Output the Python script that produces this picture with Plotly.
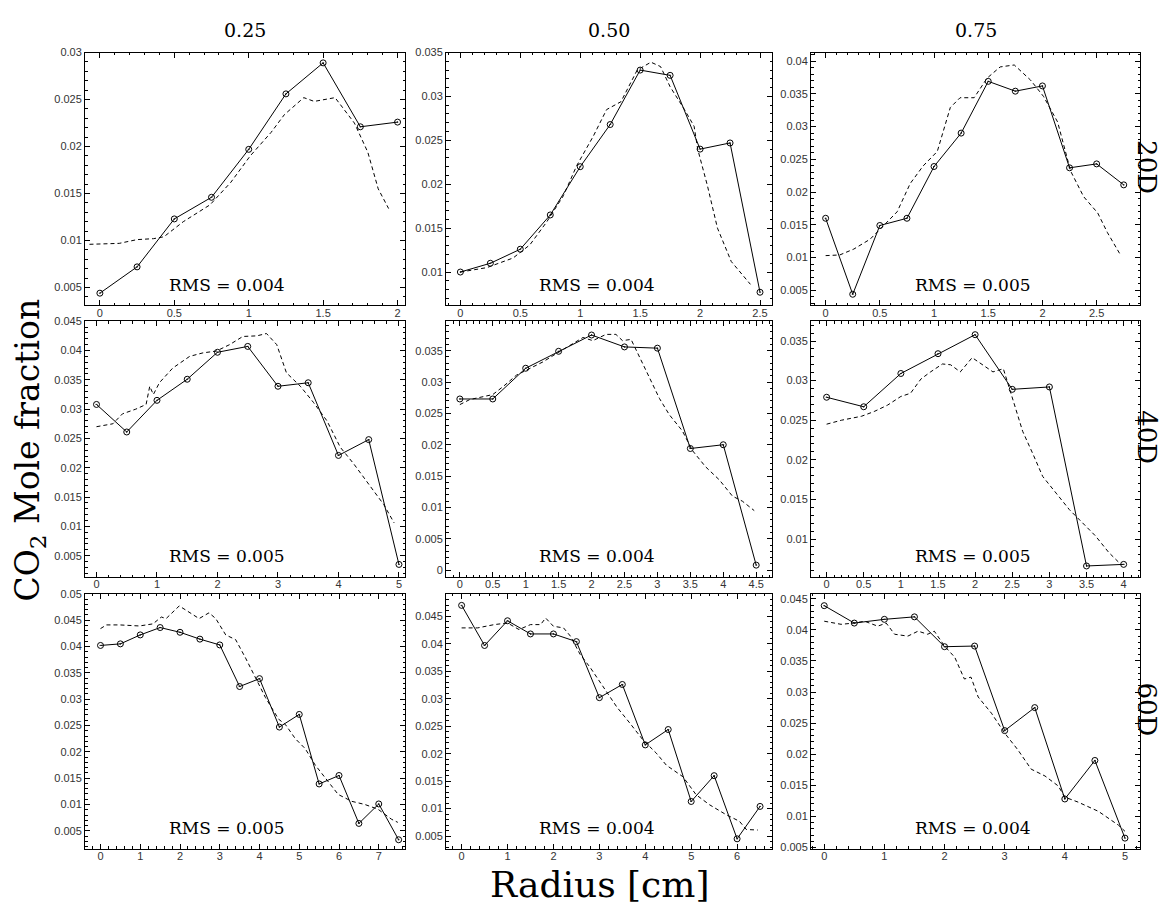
import plotly.graph_objects as go

# ---------------- data ----------------
col_titles = ["0.25", "0.50", "0.75"]
row_titles = ["20D", "40D", "60D"]
rms_labels = [["RMS = 0.004", "RMS = 0.004", "RMS = 0.005"],
              ["RMS = 0.005", "RMS = 0.004", "RMS = 0.005"],
              ["RMS = 0.005", "RMS = 0.004", "RMS = 0.004"]]

# 20D
r20_025_x = [0, 0.25, 0.5, 0.75, 1, 1.25, 1.5, 1.75, 2]
r20_025_y = [0.0044, 0.0072, 0.0123, 0.0146, 0.0197, 0.0256, 0.0289, 0.0221, 0.0226]
r20_025_sim_x = [-0.07, 0.13, 0.25, 0.36, 0.43, 0.56, 0.74, 0.88, 1.01, 1.15, 1.24, 1.37, 1.44, 1.58, 1.71, 1.80, 1.87, 1.94]
r20_025_sim_y = [0.0096, 0.0097, 0.0101, 0.0102, 0.0104, 0.0120, 0.0138, 0.0162, 0.0190, 0.0215, 0.0234, 0.0252, 0.0248, 0.0252, 0.0225, 0.0194, 0.0155, 0.0134]

r20_050_x = [0, 0.25, 0.5, 0.75, 1, 1.25, 1.5, 1.75, 2, 2.25, 2.5]
r20_050_y = [0.0100, 0.0110, 0.0126, 0.0165, 0.0220, 0.0268, 0.0330, 0.0324, 0.0240, 0.0247, 0.0077]
r20_050_sim_x = [0, 0.22, 0.44, 0.58, 0.72, 0.86, 0.97, 1.11, 1.22, 1.34, 1.475, 1.59, 1.67, 1.75, 1.87, 1.95, 1.98, 2.06, 2.145, 2.26, 2.42]
r20_050_sim_y = [0.0100, 0.0105, 0.0116, 0.0131, 0.0157, 0.0187, 0.0221, 0.0255, 0.0285, 0.0294, 0.0330, 0.0339, 0.0334, 0.0311, 0.0285, 0.0266, 0.0240, 0.0199, 0.0150, 0.0112, 0.0086]

r20_075_x = [0, 0.25, 0.5, 0.75, 1, 1.25, 1.5, 1.75, 2, 2.25, 2.5, 2.75]
r20_075_y = [0.0160, 0.0044, 0.0149, 0.0160, 0.0239, 0.0290, 0.0369, 0.0354, 0.0362, 0.0237, 0.0243, 0.0211]
r20_075_sim_x = [0, 0.13, 0.26, 0.41, 0.53, 0.66, 0.78, 0.90, 1.03, 1.15, 1.24, 1.37, 1.49, 1.61, 1.74, 1.89, 2.01, 2.14, 2.26, 2.38, 2.51, 2.60, 2.72]
r20_075_sim_y = [0.0103, 0.0104, 0.0113, 0.0128, 0.0148, 0.0170, 0.0213, 0.0240, 0.0262, 0.0329, 0.0344, 0.0344, 0.0374, 0.0391, 0.0394, 0.0371, 0.0346, 0.0307, 0.0232, 0.0193, 0.0168, 0.0138, 0.0104]

# 40D
r40_025_x = [0, 0.5, 1, 1.5, 2, 2.5, 3, 3.5, 4, 4.5, 5]
r40_025_y = [0.0308, 0.0261, 0.0315, 0.0351, 0.0397, 0.0407, 0.0339, 0.0345, 0.0221, 0.0248, 0.0035]
r40_025_sim_x = [0, 0.27, 0.43, 0.65, 0.82, 0.88, 0.94, 1.04, 1.26, 1.54, 1.76, 1.98, 2.20, 2.42, 2.65, 2.81, 2.98, 3.14, 3.37, 3.59, 3.81, 4.03, 4.25, 4.53, 4.75, 4.92]
r40_025_sim_y = [0.0270, 0.0275, 0.0292, 0.0300, 0.0308, 0.0339, 0.0325, 0.0345, 0.0370, 0.0390, 0.0396, 0.0399, 0.0410, 0.0424, 0.0425, 0.0429, 0.0410, 0.0362, 0.0339, 0.0311, 0.0280, 0.0235, 0.0207, 0.0168, 0.0137, 0.0106]

r40_050_x = [0, 0.5, 1, 1.5, 2, 2.5, 3, 3.5, 4, 4.5]
r40_050_y = [0.0273, 0.0273, 0.0322, 0.0349, 0.0375, 0.0356, 0.0354, 0.0194, 0.0200, 0.0008]
r40_050_sim_x = [0, 0.15, 0.5, 0.66, 0.86, 1.06, 1.26, 1.46, 1.66, 1.87, 2.02, 2.22, 2.37, 2.47, 2.6, 2.72, 2.88, 3.03, 3.18, 3.38, 3.53, 3.73, 3.94, 4.14, 4.29, 4.47]
r40_050_sim_y = [0.0264, 0.0272, 0.0280, 0.0293, 0.0311, 0.0321, 0.0332, 0.0345, 0.0358, 0.0371, 0.0366, 0.0376, 0.0376, 0.0366, 0.0368, 0.0342, 0.0306, 0.0274, 0.0248, 0.0222, 0.0191, 0.0165, 0.0144, 0.0118, 0.0110, 0.0095]

r40_075_x = [0, 0.5, 1, 1.5, 2, 2.5, 3, 3.5, 4]
r40_075_y = [0.0279, 0.0267, 0.0309, 0.0334, 0.0358, 0.0289, 0.0292, 0.0066, 0.0068]
r40_075_sim_x = [0, 0.2, 0.47, 0.64, 0.82, 1.0, 1.13, 1.27, 1.4, 1.56, 1.67, 1.8, 1.96, 2.11, 2.24, 2.38, 2.51, 2.64, 2.78, 2.91, 3.09, 3.27, 3.44, 3.62, 3.8, 3.93]
r40_075_sim_y = [0.0245, 0.0250, 0.0255, 0.0261, 0.0269, 0.0280, 0.0284, 0.0302, 0.0311, 0.0321, 0.0320, 0.0311, 0.0329, 0.0319, 0.0311, 0.0315, 0.0274, 0.0236, 0.0207, 0.0179, 0.0158, 0.0137, 0.0121, 0.0104, 0.0083, 0.0071]

# 60D
r60_025_x = [0, 0.5, 1, 1.5, 2, 2.5, 3, 3.5, 4, 4.5, 5, 5.5, 6, 6.5, 7, 7.5]
r60_025_y = [0.0402, 0.0405, 0.0422, 0.0436, 0.0427, 0.0414, 0.0403, 0.0324, 0.0339, 0.0247, 0.0271, 0.0139, 0.0155, 0.0064, 0.0101, 0.0033]
r60_025_sim_x = [0, 0.15, 0.48, 0.98, 1.32, 1.53, 1.65, 1.98, 2.15, 2.48, 2.73, 2.9, 3.15, 3.4, 3.65, 3.9, 4.15, 4.48, 4.65, 4.9, 5.15, 5.4, 5.73, 5.98, 6.32, 6.65, 6.98, 7.32, 7.48]
r60_025_sim_y = [0.0434, 0.0441, 0.0441, 0.0439, 0.0443, 0.0456, 0.0453, 0.0477, 0.0469, 0.0453, 0.0464, 0.0453, 0.0422, 0.0413, 0.0378, 0.0341, 0.0303, 0.0262, 0.0252, 0.0225, 0.0206, 0.0175, 0.0144, 0.0119, 0.0106, 0.0100, 0.0091, 0.0072, 0.0066]

r60_050_x = [0, 0.5, 1, 1.5, 2, 2.5, 3, 3.5, 4, 4.5, 5, 5.5, 6, 6.5]
r60_050_y = [0.0470, 0.0397, 0.0442, 0.0418, 0.0418, 0.0404, 0.0302, 0.0326, 0.0216, 0.0244, 0.0113, 0.0160, 0.0045, 0.0104]
r60_050_sim_x = [0, 0.35, 0.71, 1.0, 1.25, 1.5, 1.72, 1.83, 2.0, 2.22, 2.37, 2.58, 2.8, 3.09, 3.38, 3.67, 3.95, 4.24, 4.46, 4.82, 5.11, 5.4, 5.76, 6.05, 6.2, 6.45]
r60_050_sim_y = [0.0429, 0.0429, 0.0435, 0.0438, 0.0426, 0.0435, 0.0435, 0.0447, 0.0432, 0.0429, 0.0414, 0.0381, 0.0357, 0.0321, 0.0285, 0.0255, 0.0225, 0.0201, 0.0179, 0.0158, 0.0125, 0.0107, 0.0089, 0.0077, 0.0062, 0.0061]

r60_075_x = [0, 0.5, 1, 1.5, 2, 2.5, 3, 3.5, 4, 4.5, 5]
r60_075_y = [0.0439, 0.0411, 0.0417, 0.0421, 0.0373, 0.0374, 0.0238, 0.0275, 0.0128, 0.0190, 0.0065]
r60_075_sim_x = [0, 0.28, 0.5, 0.67, 0.89, 1.03, 1.17, 1.39, 1.56, 1.72, 1.83, 2.0, 2.17, 2.33, 2.44, 2.56, 2.78, 3.0, 3.22, 3.44, 3.67, 3.89, 4.0, 4.22, 4.56, 4.89, 5.0]
r60_075_sim_y = [0.0414, 0.0409, 0.0411, 0.0414, 0.0406, 0.0411, 0.0393, 0.0390, 0.0398, 0.0393, 0.0398, 0.0374, 0.0356, 0.0321, 0.0324, 0.0292, 0.0266, 0.0234, 0.0207, 0.0176, 0.0165, 0.0149, 0.0131, 0.0123, 0.0108, 0.0086, 0.0076]

panels = [
    [(r20_025_x, r20_025_y, r20_025_sim_x, r20_025_sim_y),
     (r20_050_x, r20_050_y, r20_050_sim_x, r20_050_sim_y),
     (r20_075_x, r20_075_y, r20_075_sim_x, r20_075_sim_y)],
    [(r40_025_x, r40_025_y, r40_025_sim_x, r40_025_sim_y),
     (r40_050_x, r40_050_y, r40_050_sim_x, r40_050_sim_y),
     (r40_075_x, r40_075_y, r40_075_sim_x, r40_075_sim_y)],
    [(r60_025_x, r60_025_y, r60_025_sim_x, r60_025_sim_y),
     (r60_050_x, r60_050_y, r60_050_sim_x, r60_050_sim_y),
     (r60_075_x, r60_075_y, r60_075_sim_x, r60_075_sim_y)],
]

# ---------------- layout config ----------------
W, H = 1167, 903
col_px = [(77, 397), (438, 764), (803, 1132)]
row_px = [(39, 295), (311, 570), (587, 845)]

x_ranges = [[(-0.1, 2.05), (-0.12, 2.6), (-0.135, 2.9)],
            [(-0.19, 5.1), (-0.21, 4.74), (-0.21, 4.22)],
            [(-0.39, 7.66), (-0.34, 6.76), (-0.22, 5.25)]]
y_ranges = [[(0.0031, 0.030), (0.0062, 0.035), (0.0027, 0.0413)],
            [(0.00135, 0.045), (-0.0011, 0.0397), (0.0052, 0.0375)],
            [(0.0016, 0.050), (0.0027, 0.0491), (0.0048, 0.0458)]]
x_dtick = [[0.5, 0.5, 0.5], [1, 0.5, 0.5], [1, 1, 1]]
rms_xfrac = [0.444, 0.463, 0.492]

SERIF = "DejaVu Serif"
SANS = "Liberation Sans, Arial, sans-serif"

fig = go.Figure()
layout = dict(width=W, height=H, margin=dict(l=0, r=0, t=0, b=0),
              plot_bgcolor="white", paper_bgcolor="white", showlegend=False)
annotations = []

def px_x(p):
    return p / W

def px_y(p):
    return 1 - p / H

k = 0
for r in range(3):
    for c in range(3):
        k += 1
        xs, ys, sx, sy = panels[r][c]
        xa = "x" if k == 1 else f"x{k}"
        ya = "y" if k == 1 else f"y{k}"
        fig.add_trace(go.Scatter(x=sx, y=sy, xaxis=xa, yaxis=ya, mode="lines",
                                 line=dict(color="black", width=1, dash="4px,3px"),
                                 hoverinfo="skip"))
        fig.add_trace(go.Scatter(x=xs, y=ys, xaxis=xa, yaxis=ya, mode="lines+markers",
                                 line=dict(color="black", width=1),
                                 marker=dict(symbol="circle-open-dot", size=6, color="black",
                                             line=dict(color="black", width=1))))
        xd = x_dtick[r][c]
        common = dict(showline=True, linecolor="black", linewidth=1, mirror="allticks",
                      ticks="inside", ticklen=5, tickwidth=1, tickcolor="black",
                      showgrid=False, zeroline=False,
                      tickfont=dict(family=SANS, size=11, color="#333333"))
        layout["xaxis" if k == 1 else f"xaxis{k}"] = dict(
            domain=[px_x(col_px[c][0]), px_x(col_px[c][1])],
            anchor=ya, range=list(x_ranges[r][c]), tick0=0, dtick=xd,
            ticklabelstandoff=-3,
            minor=dict(ticks="inside", ticklen=2.5, dtick=xd / 5, tickcolor="black"),
            **common)
        layout["yaxis" if k == 1 else f"yaxis{k}"] = dict(
            domain=[px_y(row_px[r][1]), px_y(row_px[r][0])],
            anchor=xa, range=list(y_ranges[r][c]), tick0=0, dtick=0.005,
            minor=dict(ticks="inside", ticklen=2.5, dtick=0.001, tickcolor="black"),
            **common)
        annotations.append(dict(
            xref=f"{xa} domain", yref=f"{ya} domain", x=rms_xfrac[c], y=0.082,
            xanchor="center", yanchor="middle", showarrow=False,
            text=rms_labels[r][c], font=dict(family=SERIF, size=17, color="black")))

for c in range(3):
    annotations.append(dict(xref="paper", yref="paper",
                            x=px_x((col_px[c][0] + col_px[c][1]) / 2), y=px_y(16),
                            xanchor="center", yanchor="middle", showarrow=False,
                            text=col_titles[c], font=dict(family=SERIF, size=19, color="black")))
for r in range(3):
    annotations.append(dict(xref="paper", yref="paper",
                            x=px_x(1122), y=px_y((row_px[r][0] + row_px[r][1]) / 2 - 12),
                            xanchor="left", yanchor="middle", showarrow=False, textangle=90,
                            text=row_titles[r], font=dict(family=SERIF, size=26, color="black")))

annotations.append(dict(xref="paper", yref="paper", x=px_x(22), y=px_y(442),
                        xanchor="center", yanchor="middle", showarrow=False, textangle=-90,
                        text="CO<sub>2</sub> Mole fraction",
                        font=dict(family=SERIF, size=33, color="black")))
annotations.append(dict(xref="paper", yref="paper", x=px_x(591), y=px_y(881),
                        xanchor="center", yanchor="middle", showarrow=False,
                        text="Radius [cm]", font=dict(family=SERIF, size=36, color="black")))

layout["annotations"] = annotations
fig.update_layout(**layout)
fig.write_html("out.html")
